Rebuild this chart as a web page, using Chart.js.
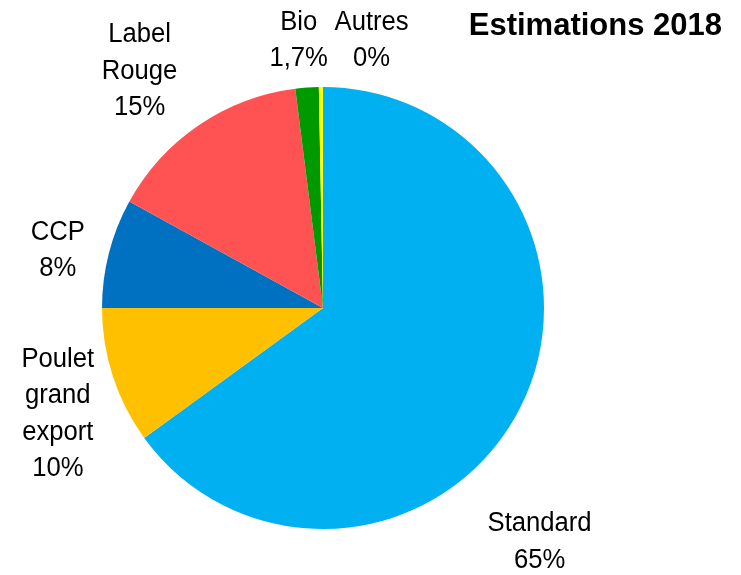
<!DOCTYPE html>
<html>
<head>
<meta charset="utf-8">
<script src="https://cdn.jsdelivr.net/npm/chart.js@4"></script>
<style>
  html, body { margin: 0; padding: 0; background: #fff; }
  #wrap { width: 741px; height: 575px; }
</style>
</head>
<body>
<div id="wrap"><canvas id="pieChart"></canvas></div>
<script>
// chart data
const categories = ['Standard', 'Poulet grand export', 'CCP', 'Label Rouge', 'Bio', 'Autres'];
const shares = [65, 10, 8, 15, 1.7, 0.3];
const shareLabels = ['65%', '10%', '8%', '15%', '1,7%', '0%'];
const labelLines = [['Standard'], ['Poulet', 'grand', 'export'], ['CCP'], ['Label', 'Rouge'], ['Bio'], ['Autres']];
const sliceColors = ['#00B0F0', '#FFC000', '#0070C0', '#FF5353', '#009A00', '#FFFF00'];
const chartTitle = 'Estimations 2018';

// label anchor offsets from the pie centre, in radius units
const labelAnchors = [[0.98, 1.06], [-1.20, 0.48], [-1.20, -0.26], [-0.83, -1.07], [-0.11, -1.21], [0.22, -1.21]];

const outsideLabels = {
    id: 'outsideLabels',
    afterDraw(chart) {
        const ctx = chart.ctx;
        const arc = chart.getDatasetMeta(0).data[0];
        const cx = arc.x, cy = arc.y, r = arc.outerRadius;
        const lineH = 36.5;
        const squeeze = 0.95; // the original font is a bit narrower

        ctx.save();
        ctx.fillStyle = '#000';
        ctx.textAlign = 'center';
        ctx.textBaseline = 'middle';
        ctx.font = '27px "Liberation Sans", Arial, sans-serif';
        categories.forEach((cat, i) => {
            const lines = labelLines[i].concat([shareLabels[i]]);
            const x = cx + labelAnchors[i][0] * r;
            const y0 = cy + labelAnchors[i][1] * r - (lines.length - 1) * lineH / 2;
            lines.forEach((t, k) => {
                ctx.save();
                ctx.translate(x, y0 + k * lineH);
                ctx.scale(squeeze, 1);
                ctx.fillText(t, 0, 0);
                ctx.restore();
            });
        });

        // title, top right
        ctx.font = 'bold 31px "Liberation Sans", Arial, sans-serif';
        ctx.textAlign = 'right';
        ctx.fillText(chartTitle, chart.width - 19, 26);
        ctx.restore();
    }
};

new Chart(document.getElementById('pieChart'), {
    type: 'pie',
    data: {
        labels: categories,
        datasets: [{
            data: shares,
            backgroundColor: sliceColors,
            borderWidth: 0
        }]
    },
    options: {
        responsive: true,
        maintainAspectRatio: false,
        animation: false,
        layout: { padding: { left: 102, right: 197, top: 87, bottom: 46 } },
        plugins: {
            legend: { display: false },
            tooltip: { enabled: false },
            title: { display: false }
        }
    },
    plugins: [outsideLabels]
});
</script>
</body>
</html>
